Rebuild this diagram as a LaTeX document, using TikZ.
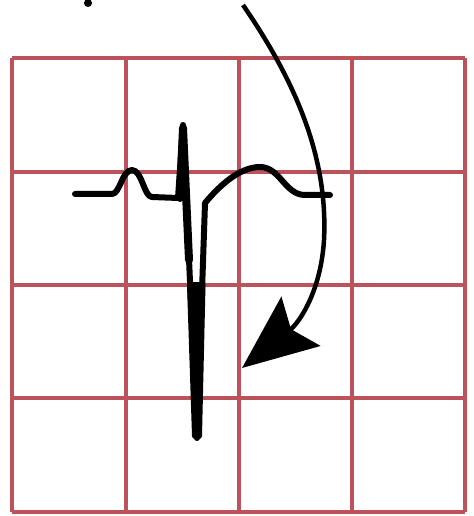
\documentclass[tikz,border=0pt]{standalone}
\usepackage{tikz}
\usetikzlibrary{arrows.meta}
\definecolor{gridred}{RGB}{188,82,92}

\begin{document}
\begin{tikzpicture}[x=0.02cm,y=-0.02cm,>=Stealth,
  gridline/.style={draw=gridred,line width=0.08cm},
  trace/.style={draw=black,line width=0.12cm,line join=round,line cap=round},
  bigarrow/.style={draw=black,line width=0.09cm,-{Stealth[length=1.5cm,width=1.25cm,inset=0.25cm]}}]
\useasboundingbox (0,0) rectangle (473,516);
% grid of the strip
\foreach \x in {12,126,239,352,465} \draw[gridline] (\x,58) -- (\x,512);
\foreach \y in {58,172,285,398,512} \draw[gridline] (12,\y) -- (465,\y);
% spot at the top
\fill (88,3) circle (4);
% the complex
\draw[trace] (75,194) -- (112,194) .. controls (120,194) and (122,170) .. (132,170)
  .. controls (142,170) and (144,197) .. (152,197) -- (178,198) -- (183,125)
  -- (197,438) -- (205,203) .. controls (220,185) and (240,167) .. (260,167)
  .. controls (280,167) and (285,195) .. (305,195) -- (330,195);
\draw[trace,line width=0.16cm] (180,198) -- (183,128) -- (189,260);
\draw[trace,fill=black] (190,285) -- (195,436) -- (199,436) -- (202.5,285) -- cycle;
% curved arrow
\coordinate (start) at (243,5);
\coordinate (turn) at (324,240);
\coordinate (tip) at (242,368);
\draw[bigarrow] (start) .. controls (298,85) and (328,160) .. (turn)
  .. controls (321,290) and (300,322) .. (tip);
\end{tikzpicture}
\end{document}
